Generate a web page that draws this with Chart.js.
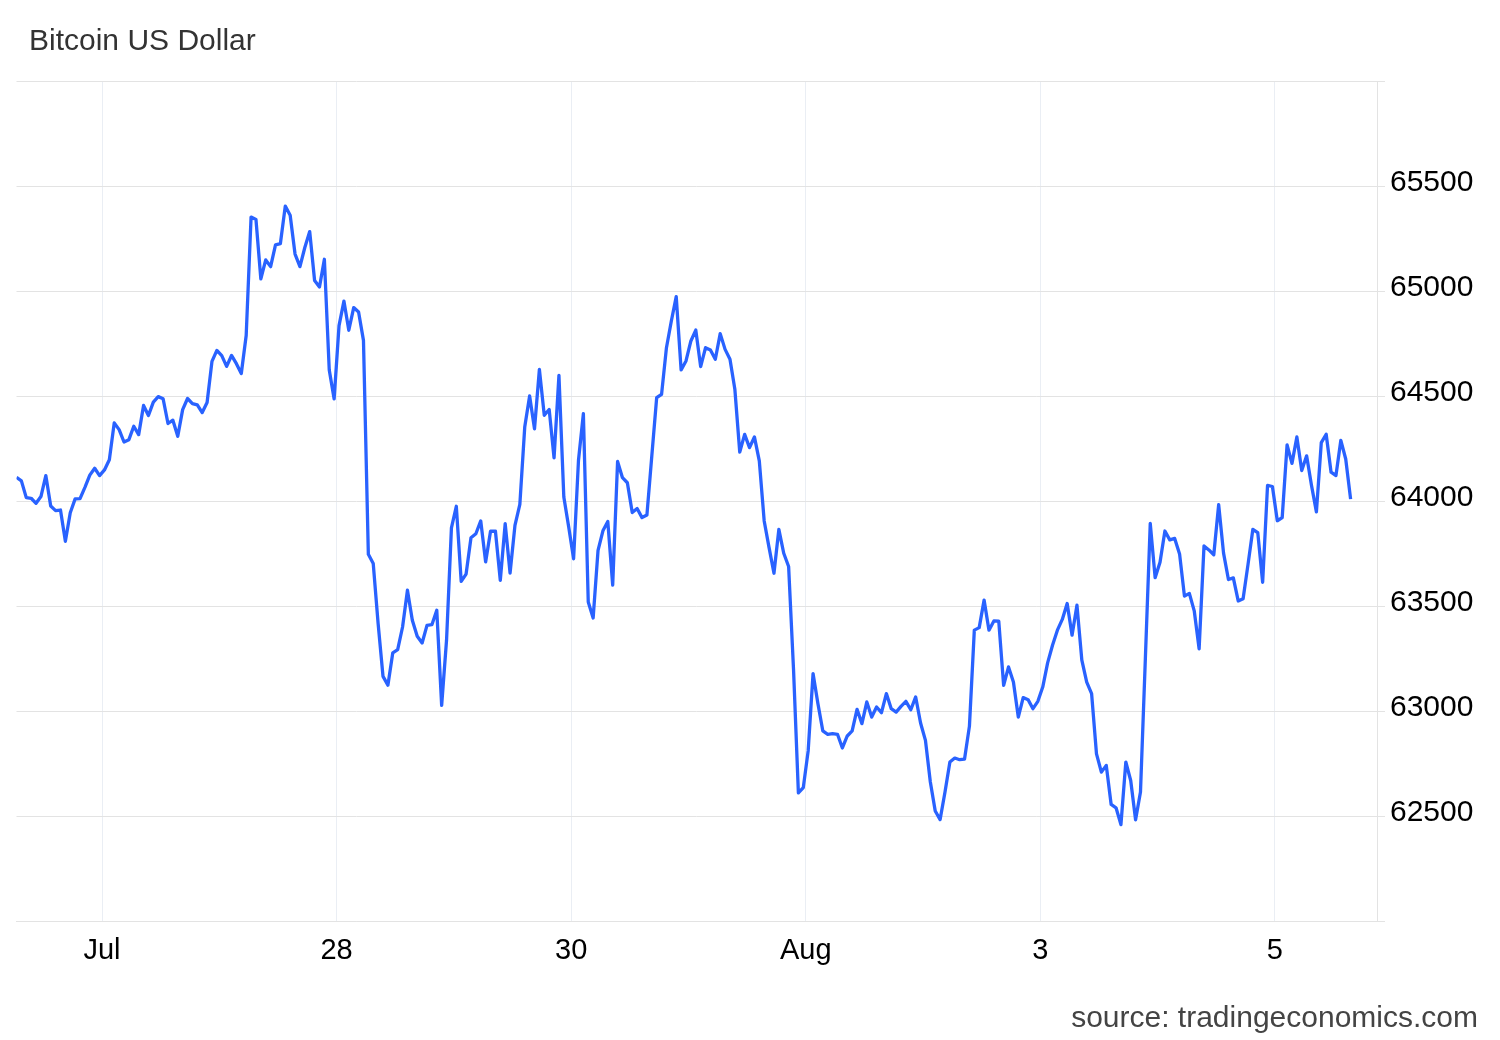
<!DOCTYPE html>
<html>
<head>
<meta charset="utf-8">
<script src="https://cdn.jsdelivr.net/npm/chart.js@4"></script>
<style>
  html, body { margin: 0; padding: 0; background: #fff; }
  #wrap { position: relative; width: 1500px; height: 1040px; }
  #c { position: absolute; left: 0; top: 0; }
  .txt { position: absolute; font-family: "Liberation Sans", Arial, sans-serif; font-size: 30px; line-height: 30px; white-space: nowrap; }
  #title { left: 29px; top: 25px; color: #333; }
  #source { right: 22px; top: 1002px; color: #444; }
</style>
</head>
<body>
<div id="wrap">
  <canvas id="c" width="1500" height="1040"></canvas>
  <div id="title" class="txt">Bitcoin US Dollar</div>
  <div id="source" class="txt">source: tradingeconomics.com</div>
</div>
<script>
// Hourly Bitcoin price, hours relative to 26 Jul 00:00
const startHour = -17.5;
const endHour = 260.9;
const prices = [
  64113, 64096, 64016, 64013, 63989, 64021, 64121, 63976, 63954, 63957,
  63808, 63944, 64010, 64011, 64065, 64123, 64156, 64121, 64148, 64196,
  64372, 64340, 64281, 64292, 64356, 64316, 64455, 64407, 64471, 64497,
  64487, 64369, 64385, 64308, 64435, 64488, 64464, 64458, 64421, 64469,
  64665, 64717, 64692, 64641, 64693, 64654, 64607, 64788, 65352, 65341,
  65058, 65148, 65116, 65220, 65226, 65404, 65361, 65176, 65116, 65207,
  65283, 65050, 65019, 65151, 64624, 64486, 64835, 64952, 64813, 64921,
  64900, 64765, 63746, 63702, 63416, 63165, 63123, 63277, 63292, 63400,
  63575, 63432, 63356, 63324, 63408, 63411, 63480, 63027, 63337, 63872,
  63975, 63617, 63652, 63825, 63844, 63905, 63710, 63856, 63857, 63622,
  63892, 63657, 63884, 63984, 64352, 64500, 64344, 64627, 64408, 64436,
  64205, 64598, 64019, 63876, 63725, 64194, 64416, 63519, 63443, 63765,
  63858, 63902, 63600, 64188, 64111, 64087, 63945, 63964, 63921, 63933,
  64214, 64492, 64508, 64730, 64857, 64973, 64624, 64667, 64762, 64814,
  64640, 64730, 64719, 64675, 64797, 64722, 64675, 64532, 64233, 64317,
  64254, 64305, 64191, 63905, 63778, 63656, 63865, 63751, 63688, 63200,
  62610, 62635, 62810, 63178, 63035, 62905, 62889, 62892, 62889, 62824,
  62881, 62905, 63008, 62940, 63043, 62971, 63019, 62992, 63083, 63011,
  62995, 63022, 63046, 63006, 63067, 62943, 62860, 62662, 62524, 62483,
  62614, 62757, 62776, 62768, 62771, 62928, 63385, 63397, 63528, 63385,
  63429, 63428, 63122, 63210, 63138, 62971, 63064, 63054, 63011, 63046,
  63114, 63229, 63313, 63385, 63436, 63512, 63361, 63504, 63242, 63138,
  63083, 62796, 62709, 62741, 62555, 62539, 62459, 62757, 62669, 62482,
  62614, 63250, 63893, 63635, 63708, 63857, 63815, 63822, 63748, 63547,
  63560, 63477, 63296, 63786, 63767, 63744, 63983, 63752, 63626, 63634,
  63524, 63535, 63697, 63865, 63849, 63613, 64074, 64069, 63906, 63921,
  64267, 64179, 64305, 64145, 64215, 64074, 63948, 64278, 64318, 64137,
  64121, 64289, 64200, 64009
];
const tickHours = [0, 48, 96, 144, 192, 240];
const tickLabels = ['Jul', '28', '30', 'Aug', '3', '5'];
const yMin = 62000;
const yMax = 66000;
const yStep = 500;

const points = prices.map((v, i) => ({ x: startHour + i, y: v }));
const FONT = '"Liberation Sans", Arial, sans-serif';

new Chart(document.getElementById('c'), {
  type: 'line',
  data: {
    datasets: [{
      data: points,
      borderColor: '#2962ff',
      borderWidth: 3.3,
      pointRadius: 0,
      pointHoverRadius: 0,
      tension: 0,
      fill: false,
      borderJoinStyle: 'round'
    }]
  },
  options: {
    responsive: false,
    animation: false,
    devicePixelRatio: 1,
    layout: { padding: { top: 81, left: 16.5, right: 0, bottom: 0 } },
    plugins: { legend: { display: false }, tooltip: { enabled: false }, title: { display: false } },
    scales: {
      x: {
        type: 'linear',
        min: startHour,
        max: endHour,
        afterBuildTicks: (s) => { s.ticks = tickHours.map(v => ({ value: v })); },
        afterFit: (s) => { s.height = 119; },
        ticks: {
          autoSkip: false,
          maxRotation: 0,
          padding: 13,
          color: '#000',
          font: { family: FONT, size: 29 },
          callback: (v) => { const k = tickHours.indexOf(v); return k >= 0 ? tickLabels[k] : ''; }
        },
        grid: { color: '#eaeef4', lineWidth: 1, drawTicks: false },
        border: { display: true, color: '#e3e3e3' }
      },
      y: {
        position: 'right',
        min: yMin,
        max: yMax,
        afterFit: (s) => { s.width = 123; },
        ticks: {
          stepSize: yStep,
          padding: 5,
          labelOffset: -3,
          color: '#000',
          font: { family: FONT, size: 30 },
          callback: (v) => (v === yMin || v === yMax) ? '' : String(v)
        },
        grid: { color: '#e3e3e3', lineWidth: 1, drawTicks: true, tickLength: 8, tickColor: '#e3e3e3' },
        border: { display: true, color: '#e3e3e3' }
      }
    }
  }
});
</script>
</body>
</html>
